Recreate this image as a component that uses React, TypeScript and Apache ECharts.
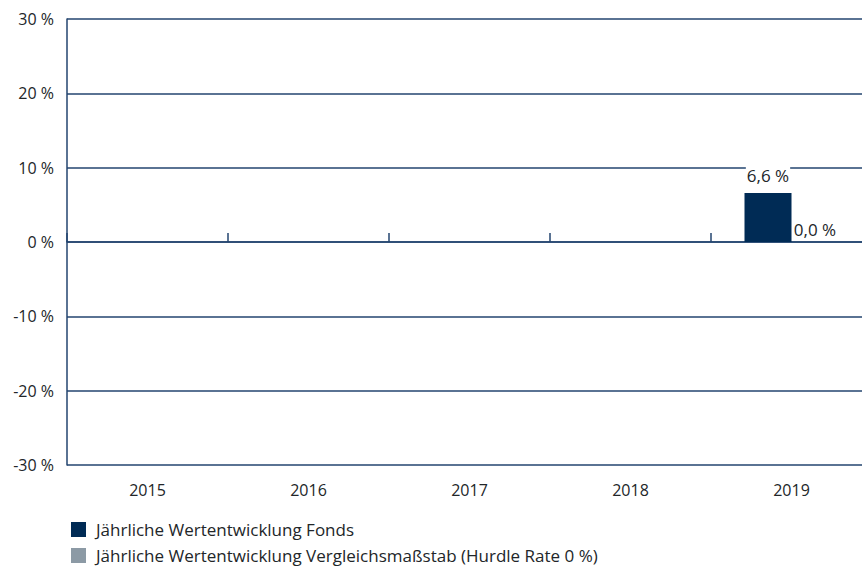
import React, { useEffect, useRef } from "react";
import * as echarts from "echarts";

const years = ["2015", "2016", "2017", "2018", "2019"];
const fondsValues: (number | null)[] = [null, null, null, null, 6.6];
const benchmarkValues: (number | null)[] = [null, null, null, null, 0.0];
const seriesNames = [
  "Jährliche Wertentwicklung Fonds",
  "Jährliche Wertentwicklung Vergleichsmaßstab (Hurdle Rate 0 %)",
];
const yTicks = [-30, -20, -10, 0, 10, 20, 30];

const NAVY = "#002b55";
const LINE = "#23446f";
const GREY = "#8c9aa5";
const TEXT = "#222629";
const FONT = "'Open Sans', 'Noto Sans', sans-serif";

const fmt = (v: number) => v.toFixed(1).replace(".", ",") + " %";

export default function App() {
  const ref = useRef<HTMLDivElement>(null);
  useEffect(() => {
    if (!ref.current) return;
    const chart = echarts.init(ref.current, null, { renderer: "svg" });
    const legendBase = {
      orient: "horizontal",
      left: 66,
      itemWidth: 15,
      itemHeight: 15,
      icon: "rect",
      textStyle: { fontSize: 17, color: TEXT, fontFamily: FONT, padding: [0, 0, 0, 5] },
    };
    chart.setOption({
      animation: false,
      textStyle: { fontFamily: FONT },
      grid: {
        left: 67,
        top: 19,
        width: 805,
        height: 446,
        containLabel: false,
        outerBoundsMode: "none",
      },
      legend: [
        { ...legendBase, top: 516, data: [seriesNames[0]] },
        { ...legendBase, top: 542, data: [seriesNames[1]] },
      ],
      xAxis: [
        {
          type: "category",
          data: years,
          position: "bottom",
          axisLine: { show: false, onZero: false },
          axisTick: { show: false },
          axisLabel: { fontSize: 16, color: TEXT, margin: 17, fontFamily: FONT },
          splitLine: { show: false },
        },
        {
          type: "category",
          data: years,
          position: "top",
          axisLine: { show: true, onZero: true, lineStyle: { color: LINE, width: 1.5 } },
          axisTick: { show: true, length: 9, lineStyle: { color: LINE, width: 1.5 } },
          axisLabel: { show: false },
          splitLine: { show: false },
        },
      ],
      yAxis: {
        type: "value",
        min: yTicks[0],
        max: yTicks[yTicks.length - 1],
        interval: 10,
        axisLine: { show: true, lineStyle: { color: LINE, width: 1.5 } },
        axisTick: { show: false },
        axisLabel: {
          fontSize: 16,
          color: TEXT,
          margin: 13,
          fontFamily: FONT,
          formatter: (v: number) => `${v} %`,
        },
        splitLine: { show: true, lineStyle: { color: LINE, width: 1.5 } },
      },
      series: [
        {
          name: seriesNames[0],
          type: "bar",
          xAxisIndex: 0,
          data: fondsValues,
          barWidth: 47,
          barGap: "0%",
          itemStyle: { color: NAVY },
          label: {
            show: true,
            position: "top",
            distance: 9,
            fontSize: 17,
            color: TEXT,
            fontFamily: FONT,
            backgroundColor: "#ffffff",
            padding: [2, 1, 0, 1],
            formatter: (p: any) => fmt(p.value),
          },
        },
        {
          name: seriesNames[1],
          type: "bar",
          xAxisIndex: 0,
          data: benchmarkValues,
          barWidth: 47,
          barGap: "0%",
          itemStyle: { color: GREY },
          label: {
            show: true,
            position: "top",
            distance: 4,
            fontSize: 17,
            color: TEXT,
            fontFamily: FONT,
            formatter: (p: any) => fmt(p.value),
          },
        },
      ],
    });
    return () => chart.dispose();
  }, []);
  return (
    <div
      ref={ref}
      style={{ position: "absolute", left: 0, top: 0, width: 862, height: 566, background: "#fff" }}
    />
  );
}
